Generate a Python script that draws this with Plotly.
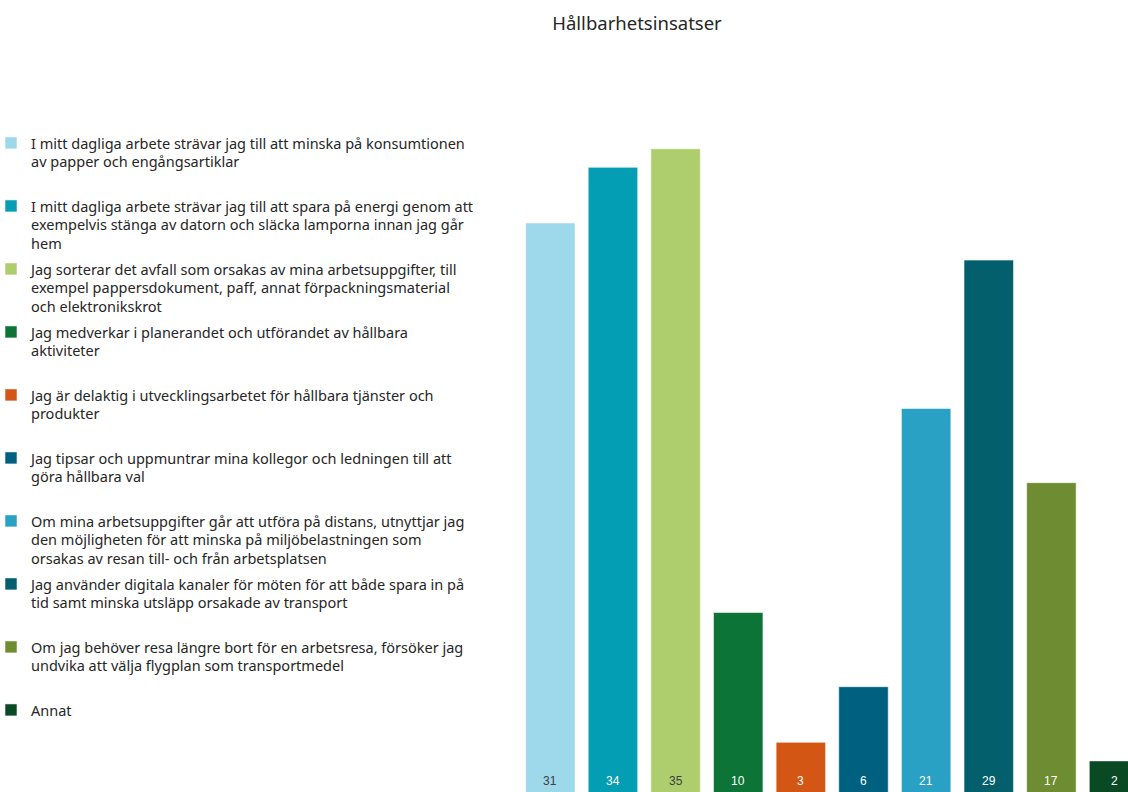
import plotly.graph_objects as go

# Survey answers: how many respondents chose each sustainability action
labels = [
    "I mitt dagliga arbete strävar jag till att minska på konsumtionen<br>av papper och engångsartiklar",
    "I mitt dagliga arbete strävar jag till att spara på energi genom att<br>exempelvis stänga av datorn och släcka lamporna innan jag går<br>hem",
    "Jag sorterar det avfall som orsakas av mina arbetsuppgifter, till<br>exempel pappersdokument, paff, annat förpackningsmaterial<br>och elektronikskrot",
    "Jag medverkar i planerandet och utförandet av hållbara<br>aktiviteter",
    "Jag är delaktig i utvecklingsarbetet för hållbara tjänster och<br>produkter",
    "Jag tipsar och uppmuntrar mina kollegor och ledningen till att<br>göra hållbara val",
    "Om mina arbetsuppgifter går att utföra på distans, utnyttjar jag<br>den möjligheten för att minska på miljöbelastningen som<br>orsakas av resan till- och från arbetsplatsen",
    "Jag använder digitala kanaler för möten för att både spara in på<br>tid samt minska utsläpp orsakade av transport",
    "Om jag behöver resa längre bort för en arbetsresa, försöker jag<br>undvika att välja flygplan som transportmedel",
    "Annat",
]
counts = [31, 34, 35, 10, 3, 6, 21, 29, 17, 2]

colors = ["#9DD9EB", "#039DB4", "#AECE6E", "#0B7436", "#D35614",
          "#006080", "#28A1C4", "#035F6C", "#6E8C31", "#094A24"]
label_colors = ["#404040", "#FFFFFF", "#404040", "#FFFFFF", "#FFFFFF",
                "#FFFFFF", "#FFFFFF", "#FFFFFF", "#FFFFFF", "#FFFFFF"]

W, H = 1128, 792
ML, MT = 519, 100
LEGEND_SIZE = 14.5
LINE_H = LEGEND_SIZE * 1.3
TEXT_FONT = "Noto Sans, Open Sans, sans-serif"

fig = go.Figure()
for i, (lab, val, col) in enumerate(zip(labels, counts, colors)):
    n_lines = lab.count("<br>") + 1
    legend_text = lab + "<br>&nbsp;" * (3 - n_lines)
    fig.add_trace(go.Bar(
        x=[i], y=[val], name=legend_text,
        marker=dict(color=col, line=dict(color="rgba(255,255,255,0.55)", width=1)),
        legendgroup=f"g{i}",
        hoverinfo="y",
    ))
    # value label sitting just above the bottom edge, inside the bar
    fig.add_annotation(
        x=i, xref="x", y=0, yref="paper", yanchor="middle", yshift=11,
        text=str(val), showarrow=False,
        font=dict(family="Liberation Sans Narrow, Arial Narrow, Liberation Sans, sans-serif",
                  size=12, color=label_colors[i]),
    )

plot_w = W - ML
plot_h = H - MT
fig.update_layout(
    width=W, height=H,
    margin=dict(l=ML, r=0, t=MT, b=0, pad=0, autoexpand=False),
    paper_bgcolor="white", plot_bgcolor="white",
    barmode="relative", bargap=0.21,
    title=dict(text="Hållbarhetsinsatser", x=637 / W, xanchor="center", xref="container",
               y=1 - 24 / H, yanchor="middle", yref="container",
               font=dict(family=TEXT_FONT, size=18.5, color="#262626")),
    # the baseline sits a few pixels below the visible bottom edge
    xaxis=dict(range=[-0.5, 9.223], showticklabels=False, showgrid=False,
               zeroline=False, showline=False, ticks=""),
    yaxis=dict(range=[0.323, 37.63], showticklabels=False, showgrid=False,
               zeroline=False, showline=False, ticks=""),
    legend=dict(
        x=(-9 - ML) / plot_w, xanchor="left",
        y=1 + (MT - 127) / plot_h, yanchor="top",
        traceorder="grouped", tracegroupgap=63 - (3 * LINE_H + 3),
        valign="top",
        font=dict(family=TEXT_FONT, size=LEGEND_SIZE, color="#262626"),
        bgcolor="rgba(0,0,0,0)",
    ),
    showlegend=True,
)

fig.write_html("out.html")
